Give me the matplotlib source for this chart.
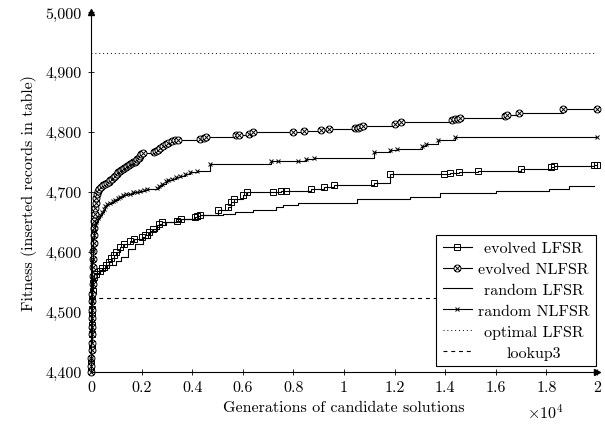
import matplotlib
matplotlib.use("Agg")
import matplotlib.pyplot as plt
from matplotlib.path import Path
from matplotlib.ticker import FixedLocator, FuncFormatter

plt.rcParams['font.family'] = 'serif'
plt.rcParams['font.serif'] = ['cmr10']
plt.rcParams['mathtext.fontset'] = 'cm'
plt.rcParams['axes.formatter.use_mathtext'] = True

# ---------------- data (x in generations, y = fitness) ----------------
evolved_lfsr_x = [0, 10, 20, 25, 30, 35, 40, 50, 60, 75, 100, 200, 350, 450, 600, 700, 800, 900,
                  1000, 1150, 1300, 1550, 1700, 2000, 2150, 2300, 2450, 2700, 2800, 3400, 3550,
                  4100, 4200, 4300, 5000, 5400, 5550, 5650, 6000, 6150, 7200, 7500, 7700, 8700,
                  9200, 9600, 11200, 11800, 13950, 14200, 14550, 15300, 17000, 18200, 18300,
                  19900, 20000]
evolved_lfsr_y = [4402, 4418, 4440, 4462, 4478, 4492, 4505, 4520, 4535, 4548, 4558, 4563, 4568,
                  4572, 4577, 4582, 4590, 4595, 4600, 4607, 4612, 4618, 4621, 4624, 4627, 4632,
                  4638, 4646, 4649, 4652, 4654, 4658, 4660, 4661, 4669, 4674, 4683, 4688, 4694,
                  4699, 4700, 4701, 4702, 4705, 4708, 4712, 4715, 4729, 4730, 4731, 4733, 4734,
                  4738, 4742, 4743, 4745, 4745]

evolved_nlfsr_x = [0, 8, 15, 20, 25, 30, 35, 40, 45, 50, 55, 60, 70, 75, 85, 95, 100, 110, 120,
                   135, 150, 165, 185, 210, 240, 280, 330, 400, 480, 560, 640, 700, 770, 830, 900,
                   960, 1020, 1080, 1130, 1190, 1250, 1310, 1370, 1430, 1490, 1550, 1610, 1660,
                   1720, 1780, 1830, 1880, 1920, 1960, 2050, 2500, 2580, 2650, 2720, 2860, 2950,
                   3050, 3200, 3320, 3450, 4300, 4450, 4550, 5750, 5850, 6250, 6400, 8000, 8400,
                   9100, 9400, 10450, 10550, 10650, 10750, 12000, 12250, 14250, 14400, 14500,
                   14600, 16350, 16450, 16900, 18650, 20000]
evolved_nlfsr_y = [4400, 4410, 4422, 4436, 4448, 4462, 4475, 4490, 4503, 4517, 4530, 4546, 4560,
                   4574, 4588, 4601, 4615, 4628, 4640, 4652, 4663, 4673, 4682, 4690, 4697, 4702,
                   4705, 4708, 4711, 4713, 4715, 4717, 4720, 4722, 4725, 4727, 4730, 4733, 4735,
                   4737, 4738, 4740, 4742, 4743, 4745, 4746, 4748, 4749, 4750, 4752, 4754, 4757,
                   4760, 4763, 4764, 4766, 4768, 4770, 4773, 4777, 4779, 4781, 4784, 4786, 4787,
                   4788, 4790, 4791, 4794, 4795, 4797, 4799, 4800, 4801, 4803, 4804, 4806, 4807,
                   4808, 4809, 4813, 4816, 4820, 4821, 4822, 4823, 4827, 4828, 4831, 4838, 4838]

random_lfsr_x = [0, 15, 30, 45, 60, 100, 300, 620, 1000, 1200, 1470, 1750, 2060, 2350, 2600,
                 2950, 3350, 4300, 5200, 5700, 6400, 7300, 7600, 8200, 10500, 12600, 13800,
                 16000, 18100, 18900, 19900]
random_lfsr_y = [4400, 4450, 4500, 4535, 4555, 4565, 4570, 4577, 4585, 4591, 4605, 4613, 4623,
                 4635, 4644, 4650, 4655, 4661, 4663, 4666, 4670, 4674, 4678, 4682, 4688, 4692,
                 4698, 4701, 4705, 4710, 4710]

random_nlfsr_x = [0, 10, 20, 30, 45, 60, 80, 100, 150, 200, 270, 360, 430, 500, 560, 650, 750,
                  880, 950, 1080, 1150, 1250, 1400, 1540, 1650, 1800, 1950, 2100, 2200, 2600,
                  2700, 2800, 2950, 3050, 3200, 3350, 3500, 3700, 3900, 4200, 4700, 7100, 7400,
                  8200, 8500, 8800, 11200, 11800, 12100, 13100, 13250, 13700, 14400, 20000]
random_nlfsr_y = [4420, 4470, 4520, 4555, 4585, 4605, 4622, 4635, 4645, 4650, 4656, 4662, 4667,
                  4672, 4676, 4679, 4682, 4684, 4687, 4690, 4692, 4694, 4696, 4697, 4699, 4700,
                  4701, 4703, 4705, 4707, 4710, 4713, 4718, 4720, 4722, 4724, 4727, 4730, 4733,
                  4735, 4747, 4751, 4752, 4752, 4754, 4756, 4766, 4769, 4772, 4777, 4780, 4786,
                  4791, 4791]

optimal_lfsr = 4932
lookup3 = 4523

x_ticks = [0, 2000, 4000, 6000, 8000, 10000, 12000, 14000, 16000, 18000, 20000]
y_ticks = [4400, 4500, 4600, 4700, 4800, 4900, 5000]
labels = ['evolved LFSR', 'evolved NLFSR', 'random LFSR', 'random NLFSR', 'optimal LFSR', 'lookup3']

# ---------------- figure ----------------
fig = plt.figure(figsize=(6.05, 4.27), dpi=100)
ax = fig.add_axes([91 / 605, 1 - 372.5 / 427, (597 - 91) / 605, (372.5 - 13) / 427])

otimes = Path.make_compound_path(
    Path.unit_circle(),
    Path([[-0.707, -0.707], [0.707, 0.707]], [Path.MOVETO, Path.LINETO]),
    Path([[-0.707, 0.707], [0.707, -0.707]], [Path.MOVETO, Path.LINETO]),
)

lw = 0.8
ax.plot(evolved_lfsr_x, evolved_lfsr_y, drawstyle='steps-post', color='black', lw=lw,
        marker='s', ms=5, mfc='none', mec='black', mew=0.7, clip_on=False, label=labels[0])
ax.plot(evolved_nlfsr_x, evolved_nlfsr_y, drawstyle='steps-post', color='black', lw=lw,
        marker=otimes, ms=5, mfc='white', mec='black', mew=0.7, clip_on=False, label=labels[1])
ax.plot(random_lfsr_x, random_lfsr_y, drawstyle='steps-post', color='black', lw=lw,
        clip_on=False, label=labels[2])
ax.plot(random_nlfsr_x, random_nlfsr_y, drawstyle='steps-post', color='black', lw=lw,
        marker='x', ms=3.5, mec='black', mew=0.7, clip_on=False, label=labels[3])
ax.plot([0, 20000], [optimal_lfsr, optimal_lfsr], color='black', lw=0.7,
        linestyle=(0, (1, 3)), label=labels[4])
ax.plot([0, 20000], [lookup3, lookup3], color='black', lw=0.8,
        linestyle=(0, (3.5, 3.5)), label=labels[5])

ax.set_xlim(0, 20000)
ax.set_ylim(4400, 5000)
ax.xaxis.set_major_locator(FixedLocator(x_ticks))
ax.yaxis.set_major_locator(FixedLocator(y_ticks))
ax.xaxis.set_major_formatter(FuncFormatter(lambda v, p: '%g' % (v / 10000)))
ax.yaxis.set_major_formatter(FuncFormatter(lambda v, p: '{:,}'.format(int(round(v)))))
ax.tick_params(direction='inout', length=5, width=0.6, labelsize=11.5, pad=4)

for s in ['top', 'right']:
    ax.spines[s].set_visible(False)
for s in ['left', 'bottom']:
    ax.spines[s].set_linewidth(0.8)
ax.plot(1, 0, marker='>', color='black', ms=4, transform=ax.transAxes, clip_on=False)
ax.plot(0, 1, marker='^', color='black', ms=4, transform=ax.transAxes, clip_on=False)

ax.set_xlabel('Generations of candidate solutions', fontsize=11.5, labelpad=4)
ax.set_ylabel('Fitness (inserted records in table)', fontsize=11.5, labelpad=6)
fig.text(545 / 605, 1 - 412 / 427, r'$\times10^4$', fontsize=11.5, ha='center', va='center')

leg = ax.legend(loc='lower right', bbox_to_anchor=(0.998, 0.015), fontsize=11.5,
                frameon=True, fancybox=False, edgecolor='black', framealpha=1,
                handlelength=1.8, handletextpad=0.4, borderpad=0.4, labelspacing=0.42,
                borderaxespad=0)
leg.get_frame().set_linewidth(0.8)

fig.canvas.draw()
r = fig.canvas.get_renderer()
texts = leg.get_texts()
ws = [t.get_window_extent(r).width for t in texts]
W = max(ws)
for t, w in zip(texts, ws):
    t.set_position(((W - w) / 2, 0))

fig.savefig('out.png', dpi=100)
